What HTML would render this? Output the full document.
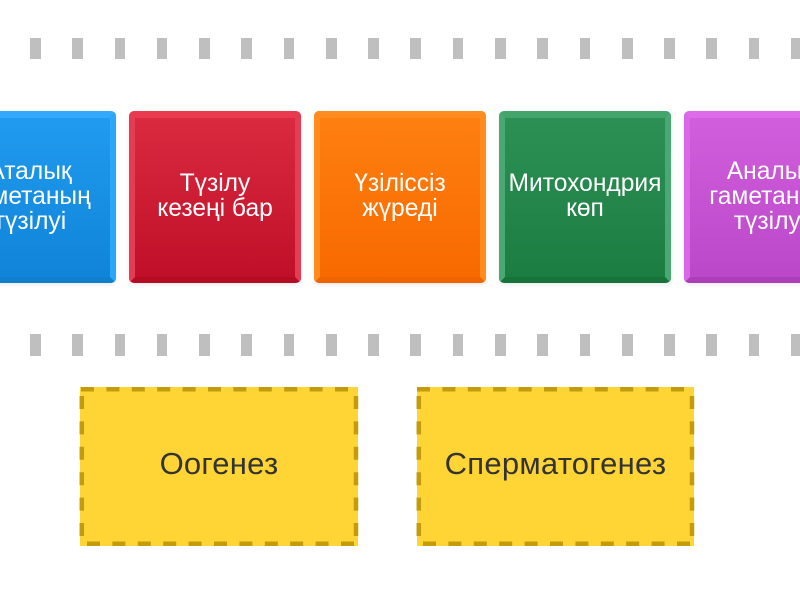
<!DOCTYPE html>
<html><head><meta charset="utf-8">
<style>
html,body{margin:0;padding:0;width:800px;height:600px;overflow:hidden;background:#fff;font-family:"Liberation Sans","DejaVu Sans",sans-serif}
.c{position:absolute;top:111px;width:172px;height:172px;box-sizing:border-box;border-radius:5px;border-style:solid;border-width:7px 6px 6px 6px;box-shadow:0 2px 4px rgba(0,0,0,.08);overflow:hidden}
.t{position:absolute;top:110px;width:172px;height:172px;display:flex;align-items:center;justify-content:center;text-align:center;color:#fff;font-size:24.6px;line-height:25px}
.y{position:absolute;display:flex;align-items:center;justify-content:center;top:384px;height:159px;color:#333;font-size:31px;letter-spacing:.25px}
.b{position:absolute;top:387px;height:159px;background:#ffd435}
svg{position:absolute;left:0;top:0}
</style></head><body>
<svg width="800" height="600">
<g fill="#bfbfbf">
<rect x="30" y="38" width="11" height="21"/><rect x="72" y="38" width="11" height="21"/><rect x="115" y="38" width="10" height="21"/><rect x="157" y="38" width="10" height="21"/><rect x="199" y="38" width="11" height="21"/><rect x="241" y="38" width="11" height="21"/><rect x="284" y="38" width="10" height="21"/><rect x="326" y="38" width="11" height="21"/><rect x="368" y="38" width="11" height="21"/><rect x="410" y="38" width="11" height="21"/><rect x="453" y="38" width="10" height="21"/><rect x="495" y="38" width="11" height="21"/><rect x="537" y="38" width="11" height="21"/><rect x="580" y="38" width="10" height="21"/><rect x="622" y="38" width="11" height="21"/><rect x="664" y="38" width="11" height="21"/><rect x="706" y="38" width="11" height="21"/><rect x="749" y="38" width="10" height="21"/><rect x="791" y="38" width="9" height="21"/>
<rect x="30" y="334" width="11" height="22"/><rect x="72" y="334" width="11" height="22"/><rect x="115" y="334" width="10" height="22"/><rect x="157" y="334" width="10" height="22"/><rect x="199" y="334" width="11" height="22"/><rect x="241" y="334" width="11" height="22"/><rect x="284" y="334" width="10" height="22"/><rect x="326" y="334" width="11" height="22"/><rect x="368" y="334" width="11" height="22"/><rect x="410" y="334" width="11" height="22"/><rect x="453" y="334" width="10" height="22"/><rect x="495" y="334" width="11" height="22"/><rect x="537" y="334" width="11" height="22"/><rect x="580" y="334" width="10" height="22"/><rect x="622" y="334" width="11" height="22"/><rect x="664" y="334" width="11" height="22"/><rect x="706" y="334" width="11" height="22"/><rect x="749" y="334" width="10" height="22"/><rect x="791" y="334" width="9" height="22"/>
</g>
</svg>

<div class="c" style="left:-56px;background:linear-gradient(#209bef,#1084d8);border-color:#34a9fb #2ba6fa #0f7fce #2ba6fa"></div>
<div class="c" style="left:129px;background:linear-gradient(#da2a40,#c01029);border-color:#e93a50 #e43c52 #b50c24 #e43c52"></div>
<div class="c" style="left:314px;background:linear-gradient(#fe7f10,#f86a00);border-color:#ff8c20 #ff8c20 #ee6500 #ff8c20"></div>
<div class="c" style="left:499px;background:linear-gradient(#2c9055,#1c7d41);border-color:#44a56c #4aa872 #16733a #4aa872"></div>
<div class="c" style="left:684px;background:linear-gradient(#d05edd,#bb48c8);border-color:#dc6ce9 #d868e5 #ac3eb9 #d868e5"></div>

<div class="t" style="left:-56px">Аталық<br>гаметаның<br>түзілуі</div>
<div class="t" style="left:129px">Түзілу<br>кезеңі бар</div>
<div class="t" style="left:314px">Үзіліссіз<br>жүреді</div>
<div class="t" style="left:499px">Митохондрия<br>көп</div>
<div class="t" style="left:684px">Аналық<br>гаметаның<br>түзілуі</div>

<div class="b" style="left:80px;width:278px"></div>
<div class="b" style="left:417px;width:277px"></div>

<svg width="800" height="600" fill="none" stroke="#c39b0b" stroke-width="4.5">
<g stroke-dasharray="13 12.4">
<path d="M81 389.2H354"/>
<path d="M81.8 396V542"/>
<path d="M356 396V542"/>
<path d="M87 543.8H354"/>
<path d="M417 389.2H691"/>
<path d="M418.8 396V542"/>
<path d="M692 396V542"/>
<path d="M423 543.8H691"/>
</g>
</svg>

<div class="y" style="left:80px;width:278px">Оогенез</div>
<div class="y" style="left:417px;width:277px">Сперматогенез</div>
</body></html>
